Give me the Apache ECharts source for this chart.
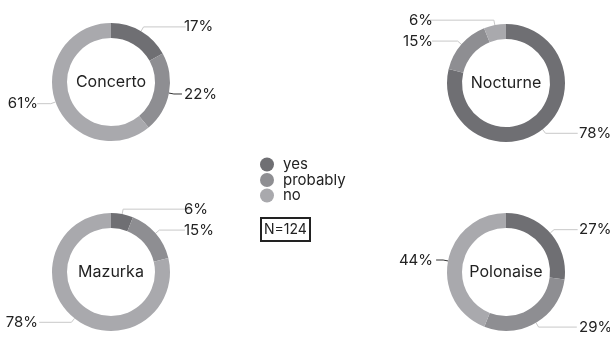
<!DOCTYPE html>
<html>
<head>
<meta charset="utf-8">
<script src="https://cdn.jsdelivr.net/npm/echarts@6/dist/echarts.min.js"></script>
<style>
  html, body { margin: 0; padding: 0; background: #ffffff; }
  #chart { width: 610px; height: 338px; }
</style>
</head>
<body>
<div id="chart"></div>
<script>
// Survey answers per piece
const answers = ['yes', 'probably', 'no'];
const pieces = ['Concerto', 'Nocturne', 'Mazurka', 'Polonaise'];
const concerto = [17, 22, 61];
const nocturne = [78, 15, 6];
const mazurka = [6, 15, 78];
const polonaise = [27, 29, 44];
const sampleSize = 124;

const values = [concerto, nocturne, mazurka, polonaise];
const colors = ['#6f6f73', '#8e8e92', '#a9a9ad'];
const centers = [[111, 82], [506, 83], [111, 272], [506, 272]];
const FONT = 'Inter, Roboto, sans-serif';
const INNER = 44, OUTER = 59;
const GAP = 14, BOX = 32;          // distance of label text from the ring, label box width
const HALF = OUTER + GAP + BOX;    // half width of each pie's layout box

// fraction of the full turn (clockwise from 12 o'clock) at the middle of a slice
function midTurn(vals, idx) {
  const total = vals.reduce((a, b) => a + b, 0);
  let before = 0;
  for (let i = 0; i < idx; i++) before += vals[i];
  return (before + vals[idx] / 2) / total;
}

// labels to the right of the ring start next to it, labels on the left end next to it
function sideOf(vals, idx) {
  return midTurn(vals, idx) < 0.5 ? 'r' : 'l';
}

// slices pointing sideways get a short dark tick instead of a faint leader
function leaderColor(vals, idx) {
  const a = midTurn(vals, idx) * 2 * Math.PI;
  return Math.abs(Math.cos(a)) < 0.3 ? '#333333' : '#c8c8c8';
}

const series = values.map((vals, k) => {
  const [cx, cy] = centers[k];
  return {
    type: 'pie',
    name: pieces[k],
    left: cx - HALF,
    top: cy - 100,
    width: HALF * 2,
    height: 200,
    center: [HALF, 100],
    radius: [INNER, OUTER],
    startAngle: 90,
    clockwise: true,
    silent: true,
    animation: false,
    avoidLabelOverlap: true,
    itemStyle: { borderWidth: 0 },
    label: {
      show: true,
      position: 'outside',
      alignTo: 'edge',
      edgeDistance: 0,
      distanceToLabelLine: 1,
      width: BOX,
      overflow: 'none',
      color: '#222',
      fontFamily: FONT,
      fontSize: 15,
      formatter: p => '{' + sideOf(vals, p.dataIndex) + '|' + p.value + '%}',
      rich: {
        r: { align: 'left', color: '#222', fontFamily: FONT, fontSize: 15 },
        l: { align: 'right', color: '#222', fontFamily: FONT, fontSize: 15 }
      }
    },
    labelLine: {
      show: true,
      length: 5,
      length2: 8,
      lineStyle: { color: '#c8c8c8', width: 1 }
    },
    emphasis: { disabled: true },
    data: answers.map((a, i) => ({
      name: a,
      value: vals[i],
      itemStyle: { color: colors[i] },
      labelLine: { lineStyle: { color: leaderColor(vals, i) } }
    }))
  };
});

const titles = pieces.map((name, k) => ({
  text: name,
  left: centers[k][0],
  top: centers[k][1],
  textAlign: 'center',
  textVerticalAlign: 'middle',
  padding: 0,
  textStyle: { fontFamily: FONT, fontSize: 16, fontWeight: 'normal', color: '#222' }
}));

titles.push({
  text: 'N=' + sampleSize,
  left: 261,
  top: 218,
  padding: [3, 3, 3, 3],
  borderColor: '#222',
  borderWidth: 2,
  textStyle: { fontFamily: FONT, fontSize: 14, fontWeight: 'normal', color: '#222', lineHeight: 17 }
});

const chart = echarts.init(document.getElementById('chart'), null, { renderer: 'canvas' });
chart.setOption({
  backgroundColor: '#ffffff',
  animation: false,
  title: titles,
  legend: {
    orient: 'vertical',
    left: 255,
    top: 152,
    icon: 'circle',
    itemWidth: 22,
    itemHeight: 14,
    itemGap: 0.5,
    selectedMode: false,
    data: answers,
    textStyle: { fontFamily: FONT, fontSize: 15, color: '#222', lineHeight: 14 }
  },
  series: series
});
</script>
</body>
</html>
